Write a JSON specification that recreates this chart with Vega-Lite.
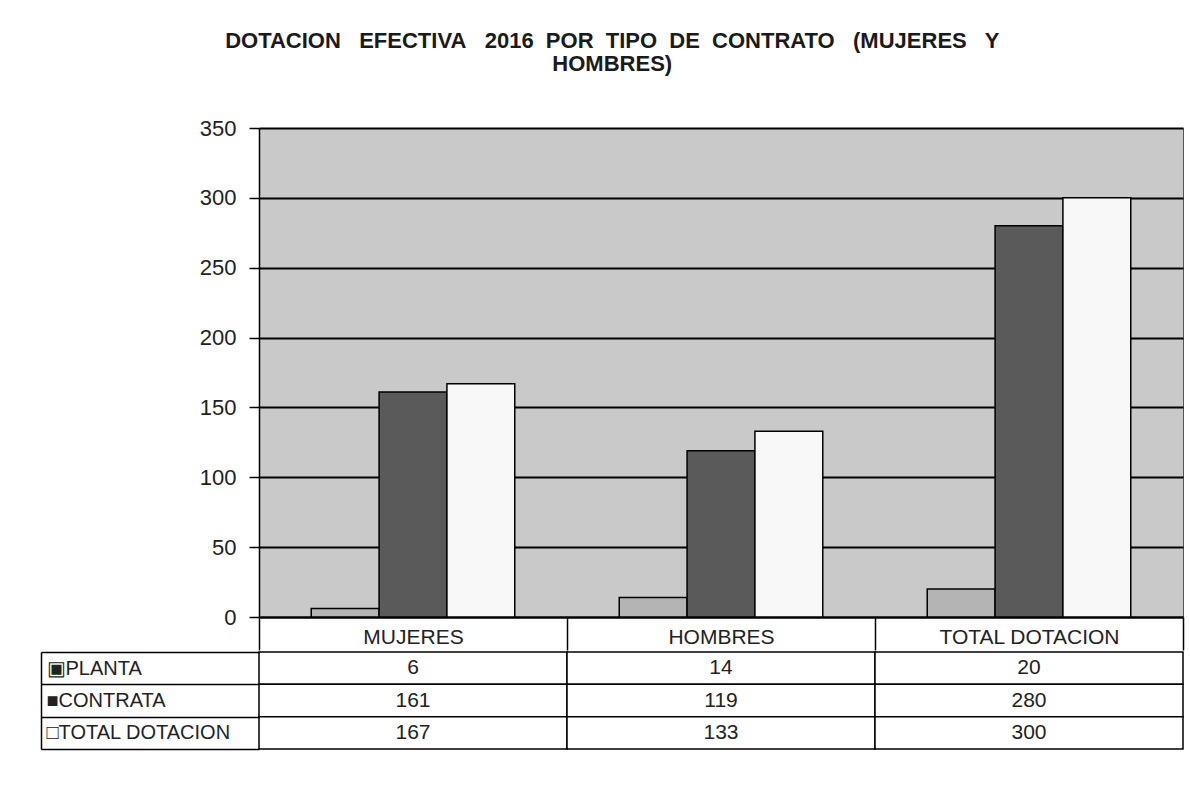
{
  "$schema": "https://vega.github.io/schema/vega-lite/v6.json",
  "background": "white",
  "padding": {"left": 40, "top": 29, "right": 5, "bottom": 5},
  "spacing": -15,
  "title": {
    "text": ["DOTACION\u00a0\u00a0 EFECTIVA\u00a0\u00a0 2016\u00a0 POR\u00a0 TIPO\u00a0 DE\u00a0 CONTRATO\u00a0\u00a0 (MUJERES\u00a0\u00a0 Y", "HOMBRES)"],
    "font": "Liberation Sans",
    "fontSize": 22,
    "fontWeight": "bold",
    "color": "#1a1a1a",
    "anchor": "middle",
    "frame": "bounds",
    "lineHeight": 23,
    "offset": 41
  },
  "datasets": {
    "d": [
      {"grupo": "MUJERES", "tipo": "PLANTA", "valor": 6},
      {"grupo": "MUJERES", "tipo": "CONTRATA", "valor": 161},
      {"grupo": "MUJERES", "tipo": "TOTAL DOTACION", "valor": 167},
      {"grupo": "HOMBRES", "tipo": "PLANTA", "valor": 14},
      {"grupo": "HOMBRES", "tipo": "CONTRATA", "valor": 119},
      {"grupo": "HOMBRES", "tipo": "TOTAL DOTACION", "valor": 133},
      {"grupo": "TOTAL DOTACION", "tipo": "PLANTA", "valor": 20},
      {"grupo": "TOTAL DOTACION", "tipo": "CONTRATA", "valor": 280},
      {"grupo": "TOTAL DOTACION", "tipo": "TOTAL DOTACION", "valor": 300}
    ]
  },
  "vconcat": [
    {
      "width": 924,
      "height": 489,
      "data": {"name": "d"},
      "view": {"fill": "#c9c9c9", "stroke": "#555555", "strokeWidth": 1},
      "mark": {"type": "bar", "stroke": "black", "strokeWidth": 1.5},
      "encoding": {
        "x": {
          "field": "grupo",
          "type": "nominal",
          "sort": ["MUJERES", "HOMBRES", "TOTAL DOTACION"],
          "scale": {"paddingInner": 0, "paddingOuter": 0},
          "axis": {
            "title": null,
            "labelAngle": 0,
            "grid": false,
            "domainColor": "black",
            "domainWidth": 2,
            "tickBand": "extent",
            "tickSize": 33,
            "tickColor": "black",
            "tickWidth": 1.5,
            "labelPadding": -24,
            "labelLimit": 400,
            "labelExpr": "isValid(datum.value) ? datum.value : ''",
            "labelFont": "Liberation Sans",
            "labelFontSize": 21,
            "labelColor": "#222222"
          }
        },
        "xOffset": {
          "field": "tipo",
          "type": "nominal",
          "sort": ["PLANTA", "CONTRATA", "TOTAL DOTACION"],
          "scale": {"paddingInner": 0, "paddingOuter": 0.77}
        },
        "y": {
          "field": "valor",
          "type": "quantitative",
          "scale": {"domain": [0, 350]},
          "axis": {
            "title": null,
            "values": [0, 50, 100, 150, 200, 250, 300, 350],
            "grid": true,
            "gridColor": "black",
            "gridWidth": 2,
            "gridOpacity": 1,
            "domainColor": "black",
            "domainWidth": 1.5,
            "tickSize": 10,
            "tickColor": "black",
            "tickWidth": 1.5,
            "labelPadding": 13,
            "labelFont": "Liberation Sans",
            "labelFontSize": 22,
            "labelColor": "#222222"
          }
        },
        "color": {
          "field": "tipo",
          "type": "nominal",
          "scale": {
            "domain": ["PLANTA", "CONTRATA", "TOTAL DOTACION"],
            "range": ["#b4b4b4", "#5a5a5a", "#f8f8f8"]
          },
          "legend": null
        }
      }
    },
    {
      "width": 924,
      "height": 97,
      "data": {"name": "d"},
      "view": {"stroke": null, "fill": null},
      "encoding": {
        "x": {
          "field": "grupo",
          "type": "nominal",
          "sort": ["MUJERES", "HOMBRES", "TOTAL DOTACION"],
          "scale": {"paddingInner": 0, "paddingOuter": 0},
          "axis": null
        },
        "y": {
          "field": "tipo",
          "type": "nominal",
          "sort": ["PLANTA", "CONTRATA", "TOTAL DOTACION"],
          "scale": {"paddingInner": 0, "paddingOuter": 0},
          "axis": {
            "title": null,
            "orient": "left",
            "offset": 218,
            "grid": false,
            "domainColor": "black",
            "domainWidth": 1.5,
            "tickBand": "extent",
            "tickSize": -218,
            "tickColor": "black",
            "tickWidth": 1.5,
            "labelAlign": "left",
            "labelPadding": 213,
            "labelLimit": 400,
            "labelFont": "Liberation Sans",
            "labelFontSize": 20,
            "labelColor": "#222222",
            "labelExpr": "isValid(datum.value) ? ((datum.value == 'PLANTA' ? '▣' : datum.value == 'CONTRATA' ? '■' : '□') + datum.value) : ''"
          }
        }
      },
      "layer": [
        {"mark": {"type": "rect", "fill": "white", "stroke": "black", "strokeWidth": 1.5}},
        {
          "mark": {"type": "text", "font": "Liberation Sans", "fontSize": 21, "color": "#222222"},
          "encoding": {"text": {"field": "valor", "type": "quantitative"}}
        }
      ]
    }
  ]
}
